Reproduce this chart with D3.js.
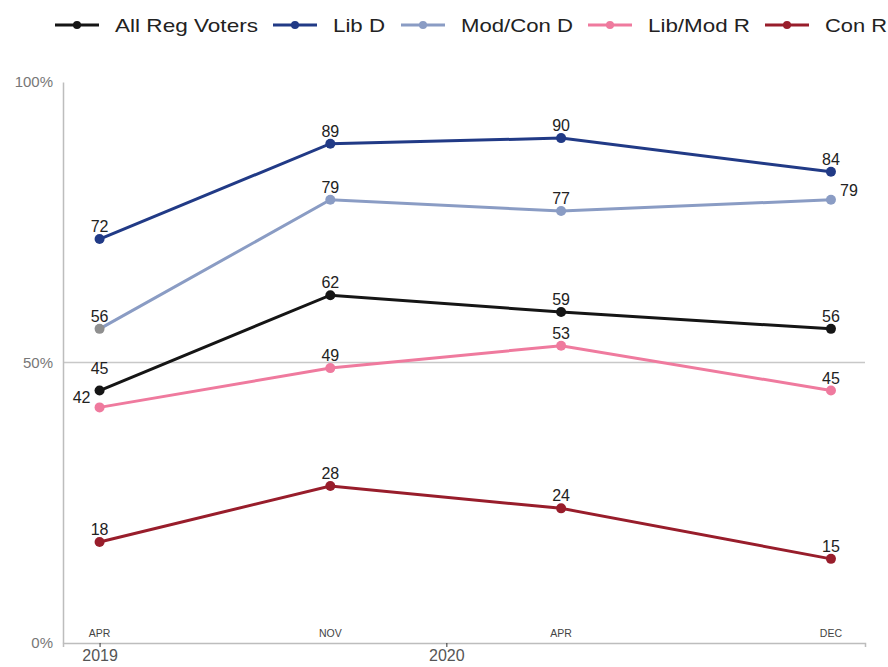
<!DOCTYPE html>
<html>
<head>
<meta charset="utf-8">
<script src="https://cdn.jsdelivr.net/npm/d3@7"></script>
<style>
  body { margin: 0; background: #fff; }
  text { font-family: "Liberation Sans", Arial, sans-serif; }
</style>
</head>
<body>
<div id="chart"></div>
<script>
// poll dates (positioned on a time axis) and their month labels
const pollDates = ["2019-04-01", "2019-10-01", "2020-04-01", "2020-11-01"];
const monthLabels = ["APR", "NOV", "APR", "DEC"];
const yearTicks = ["2019-04-01", "2020-01-01"];
const yearLabels = ["2019", "2020"];

const seriesNames = ["All Reg Voters", "Lib D", "Mod/Con D", "Lib/Mod R", "Con R"];
const allRegVoters = [45, 62, 59, 56];
const libD = [72, 89, 90, 84];
const modConD = [56, 79, 77, 79];
const libModR = [42, 49, 53, 45];
const conR = [18, 28, 24, 15];

const yTicks = [0, 50, 100];

const colors = ["#151515", "#213a86", "#8a9cc4", "#ef7a9e", "#981d2b"];

const width = 888;
const height = 667;
const margin = { top: 82, right: 23, bottom: 24, left: 63 };

const parse = d3.timeParse("%Y-%m-%d");
const dates = pollDates.map(parse);
const series = [allRegVoters, libD, modConD, libModR, conR].map((vals, i) => ({
  name: seriesNames[i],
  color: colors[i],
  points: vals.map((v, j) => ({ date: dates[j], value: v }))
}));

const svg = d3.select("#chart")
  .append("svg")
  .attr("width", width)
  .attr("height", height);

const x = d3.scaleTime()
  .domain([parse("2019-03-03"), parse("2020-11-28")])
  .range([margin.left, width - margin.right]);

const y = d3.scaleLinear()
  .domain([0, 100])
  .range([height - margin.bottom, margin.top]);

// 50% gridline
svg.append("line")
  .attr("x1", x.range()[0])
  .attr("x2", x.range()[1])
  .attr("y1", y(50))
  .attr("y2", y(50))
  .attr("stroke", "#c8c8c8")
  .attr("stroke-width", 1.5);

// y axis
const yAxis = svg.append("g")
  .attr("transform", `translate(${margin.left},0)`)
  .call(d3.axisLeft(y).tickValues(yTicks).tickFormat(d => d + "%").tickSize(0).tickPadding(10));
yAxis.select(".domain").attr("stroke", "#bdbdbd").attr("stroke-width", 1.5);
yAxis.selectAll("text").attr("fill", "#777").attr("font-size", 15)
  .attr("font-family", "Liberation Sans, Arial, sans-serif");

// x axis
const xAxis = svg.append("g")
  .attr("transform", `translate(0,${y(0)})`)
  .call(d3.axisBottom(x)
    .tickValues(yearTicks.map(parse))
    .tickFormat((d, i) => yearLabels[i])
    .tickSize(4).tickPadding(3));
xAxis.select(".domain").attr("stroke", "#bdbdbd").attr("stroke-width", 1.5);
xAxis.selectAll(".tick line").attr("stroke", "#333");
xAxis.selectAll("text").attr("fill", "#555").attr("font-size", 16)
  .attr("font-family", "Liberation Sans, Arial, sans-serif");

// month labels inside the plot
svg.append("g")
  .selectAll("text")
  .data(dates)
  .join("text")
  .attr("x", d => x(d))
  .attr("y", y(0) - 6)
  .attr("text-anchor", "middle")
  .attr("font-size", 10.5)
  .attr("fill", "#444")
  .text((d, i) => monthLabels[i]);

const line = d3.line()
  .x(d => x(d.date))
  .y(d => y(d.value));

// label nudges for crowded spots: [series index, point index, dx, dy]
const nudges = [
  [0, 0, 0, -10],
  [3, 0, -18, 3],
  [2, 3, 18, 3]
];
const nudge = (si, j) => nudges.find(n => n[0] === si && n[1] === j);

series.forEach((s, si) => {
  const g = svg.append("g");
  g.append("path")
    .datum(s.points)
    .attr("fill", "none")
    .attr("stroke", s.color)
    .attr("stroke-width", 3)
    .attr("d", line);

  g.selectAll("circle")
    .data(s.points)
    .join("circle")
    .attr("cx", d => x(d.date))
    .attr("cy", d => y(d.value))
    .attr("r", 5)
    // first Mod/Con D point is drawn grey in the original
    .attr("fill", (d, j) => (si === 2 && j === 0) ? "#8f8f8f" : s.color);

  g.selectAll("text")
    .data(s.points)
    .join("text")
    .attr("x", (d, j) => x(d.date) + (nudge(si, j) ? nudge(si, j)[2] : 0))
    .attr("y", (d, j) => y(d.value) - 7 + (nudge(si, j) ? nudge(si, j)[3] : 0))
    .attr("text-anchor", "middle")
    .attr("font-size", 16)
    .attr("fill", "#222")
    .text(d => d.value);
});

// legend
const legendX = [55, 273, 401, 588, 765];
const legendTextW = [143, 52, 112, 102, 62];
const legend = svg.append("g").attr("transform", "translate(0,25)");
series.forEach((s, i) => {
  const lg = legend.append("g").attr("transform", `translate(${legendX[i]},0)`);
  lg.append("line")
    .attr("x1", 0).attr("x2", 44)
    .attr("stroke", s.color)
    .attr("stroke-width", 3);
  lg.append("circle")
    .attr("cx", 22).attr("r", 4)
    .attr("fill", s.color);
  lg.append("text")
    .attr("x", 60)
    .attr("dy", "0.35em")
    .attr("font-size", 19)
    .attr("fill", "#222")
    .attr("textLength", legendTextW[i])
    .attr("lengthAdjust", "spacingAndGlyphs")
    .text(s.name);
});
</script>
</body>
</html>
